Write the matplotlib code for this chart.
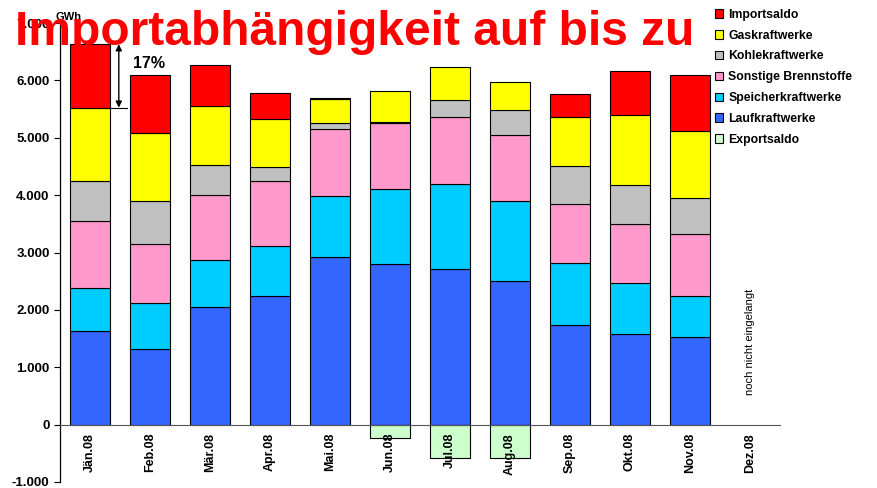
import numpy as np
import matplotlib.pyplot as plt

plt.rcParams['font.family'] = ['Liberation Sans', 'DejaVu Sans']

# Daten (GWh)
monate = ['Jän.08', 'Feb.08', 'Mär.08', 'Apr.08', 'Mai.08', 'Jun.08',
          'Jul.08', 'Aug.08', 'Sep.08', 'Okt.08', 'Nov.08', 'Dez.08']
laufkraftwerke = [1640, 1325, 2045, 2250, 2930, 2795, 2720, 2500, 1745, 1575, 1520, 0]
speicherkraftwerke = [745, 800, 820, 865, 1050, 1320, 1480, 1405, 1070, 895, 715, 0]
sonstige = [1160, 1030, 1145, 1135, 1180, 1135, 1155, 1150, 1025, 1030, 1080, 0]
kohlekraftwerke = [705, 750, 510, 235, 105, 30, 310, 435, 665, 675, 635, 0]
gaskraftwerke = [1275, 1175, 1030, 835, 405, 540, 565, 490, 865, 1230, 1175, 0]
importsaldo = [1105, 1005, 710, 460, 20, 0, 0, 0, 395, 750, 960, 0]
exportsaldo = [0, 0, 0, 0, 0, -240, -575, -575, 0, 0, 0, 0]

reihen = [
    ('Laufkraftwerke', laufkraftwerke, '#3366FF'),
    ('Speicherkraftwerke', speicherkraftwerke, '#00CCFF'),
    ('Sonstige Brennstoffe', sonstige, '#FF99CC'),
    ('Kohlekraftwerke', kohlekraftwerke, '#C0C0C0'),
    ('Gaskraftwerke', gaskraftwerke, '#FFFF00'),
    ('Importsaldo', importsaldo, '#FF0000'),
]

fig = plt.figure(figsize=(8.77, 4.88), dpi=100)
ax = fig.add_axes([60 / 877, 6 / 488, 720 / 877, 459 / 488])

x = np.arange(len(monate))
breite = 0.66
unten = np.zeros(len(monate))
handles = {}
for name, werte, farbe in reihen:
    werte = np.array(werte, dtype=float)
    sichtbar = werte != 0  # leere Segmente nicht zeichnen
    b = ax.bar(x[sichtbar], werte[sichtbar], breite, bottom=unten[sichtbar], color=farbe,
               edgecolor='black', linewidth=0.8, label=name)
    handles[name] = b
    unten = unten + werte
export = np.array(exportsaldo, dtype=float)
b = ax.bar(x[export != 0], export[export != 0], breite, color='#CCFFCC',
           edgecolor='black', linewidth=0.8, label='Exportsaldo')
handles['Exportsaldo'] = b

# Achsen (Spine zuerst verschieben, sonst gehen die Tick-Einstellungen verloren)
ax.spines['top'].set_visible(False)
ax.spines['right'].set_visible(False)
ax.spines['bottom'].set_position(('data', 0))
ax.spines['bottom'].set_color('#555555')
ax.spines['left'].set_linewidth(0.9)

ax.set_xlim(-0.5, 11.5)
ax.set_ylim(-1000, 7000)
ax.set_yticks(range(-1000, 8000, 1000))
ax.set_yticklabels([f'{v:,}'.replace(',', '.') for v in range(-1000, 8000, 1000)],
                   fontsize=9.5, fontweight='bold')
ax.set_xticks(x)
ax.set_xticklabels(monate, rotation=90, fontsize=9, fontweight='bold', va='top')
ax.tick_params(axis='x', length=0, pad=6)
ax.tick_params(axis='y', length=4, width=0.8, direction='out')

# Pfeil 17 % (Importanteil Jänner)
oben = sum(r[1][0] for r in reihen)
ohne_import = oben - importsaldo[0]
ax.plot([breite / 2 - 0.01, 0.62], [ohne_import, ohne_import], color='black', lw=0.8)
ax.annotate('', xy=(0.48, oben), xytext=(0.48, ohne_import),
            arrowprops=dict(arrowstyle='<|-|>', color='black', lw=1,
                            mutation_scale=9, shrinkA=0, shrinkB=0))
ax.text(0.98, 6300, '17%', ha='center', va='center', fontsize=11.5, fontweight='bold')

ax.text(11, 520, 'noch nicht eingelangt', rotation=90, ha='center', va='bottom',
        fontsize=8)

# Legende
reihenfolge = ['Importsaldo', 'Gaskraftwerke', 'Kohlekraftwerke', 'Sonstige Brennstoffe',
               'Speicherkraftwerke', 'Laufkraftwerke', 'Exportsaldo']
fig.legend([handles[n] for n in reihenfolge], reihenfolge,
           loc='upper left', bbox_to_anchor=(710 / 877, 1 - 4 / 488),
           frameon=False, prop={'size': 8.8, 'weight': 'bold'},
           handlelength=0.7, handleheight=0.7, handletextpad=0.4,
           labelspacing=0.72, borderaxespad=0)

fig.text(56 / 877, 1 - 20 / 488, 'GWh', fontsize=8, fontweight='bold', va='baseline')
fig.text(15 / 877, 1 - 45 / 488, 'Importabhängigkeit auf bis zu', color='#FF0000',
         fontsize=34.5, fontweight='bold', va='baseline')

fig.savefig('out.png', dpi=100)
